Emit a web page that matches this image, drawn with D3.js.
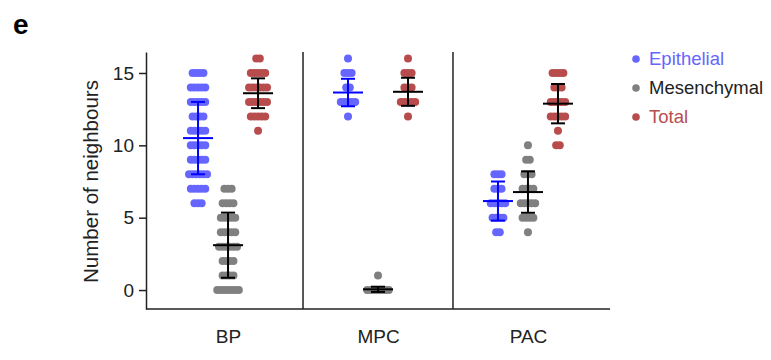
<!DOCTYPE html>
<html>
<head>
<meta charset="utf-8">
<script src="https://cdn.jsdelivr.net/npm/d3@7"></script>
<style>
  body { margin: 0; background: #fff; }
  text { font-family: "Liberation Sans", Arial, Helvetica, sans-serif; }
</style>
</head>
<body>
<svg id="chart" width="771" height="360"></svg>
<script>
// Regions and cell types
const categories = ["BP", "MPC", "PAC"];
const cellTypes = ["Epithelial", "Mesenchymal", "Total"];
const yTicks = [0, 5, 10, 15];

// Number of neighbours per cell, one list per region
const epithelialBP = [15,15,15,15, 14,14,14,14,14, 13,13,13,13,13, 12,12,12,12,
  11,11,11,11,11, 10,10,10,10,10, 9,9,9,9,9, 8,8,8,8,8,8, 7,7,7,7,7, 6,6,6];
const mesenchymalBP = [7,7,7, 6,6,6,6, 5,5,5,5,5, 4,4,4,4,4, 3,3,3,3,3,3,
  2,2,2,2, 1,1,1,1, 0,0,0,0,0,0,0];
const totalBP = [16,16, 15,15,15,15,15, 14,14,14,14,14,14, 13,13,13,13,13,13,
  12,12,12,12,12, 11];

const epithelialMPC = [16, 15,15,15, 14,14, 13,13,13,13,13, 12];
const mesenchymalMPC = [1, 0,0,0,0,0,0,0];
const totalMPC = [16, 15,15,15, 14,14,14, 13,13,13,13,13, 12];

const epithelialPAC = [8,8,8, 7,7,7, 6,6,6,6,6, 5,5,5,5, 4,4];
const mesenchymalPAC = [10, 9,9, 8,8,8, 7,7,7,7, 6,6,6,6,6, 5,5,5,5, 4];
const totalPAC = [15,15,15,15, 14,14,14, 13,13,13,13,13, 12,12,12,12,12, 11, 10,10];

// Mean and standard deviation per region
const epithelialMean = [10.5, 13.65, 6.15];
const epithelialSD = [2.5, 0.95, 1.35];
const mesenchymalMean = [3.1, 0.05, 6.77];
const mesenchymalSD = [2.25, 0.18, 1.43];
const totalMean = [13.6, 13.7, 12.88];
const totalSD = [1.03, 0.97, 1.36];

const dotColors = ["#6666ff", "#808080", "#b84c4c"];
const barColors = ["#0000ff", "#000000", "#000000"];
const legendTextColors = ["#6666ff", "#222222", "#b84c4c"];

const valuesByType = [
  [epithelialBP, epithelialMPC, epithelialPAC],
  [mesenchymalBP, mesenchymalMPC, mesenchymalPAC],
  [totalBP, totalMPC, totalPAC]
];
const meanByType = [epithelialMean, mesenchymalMean, totalMean];
const sdByType = [epithelialSD, mesenchymalSD, totalSD];

const svg = d3.select("#chart");
const plotLeft = 146, plotRight = 610, plotTop = 52, plotBottom = 309;

const x = d3.scalePoint().domain(categories).range([plotLeft, plotRight]).padding(0.547);
const xSub = d3.scalePoint().domain(cellTypes).range([-30, 30]);
const y = d3.scaleLinear().domain([-1.31, 16.45]).range([plotBottom, plotTop]);

const axisColor = "#222";

// Panel dividers between regions
const step = x.step();
svg.append("g").selectAll("line")
  .data(categories.slice(1))
  .join("line")
  .attr("x1", d => x(d) - step / 2).attr("x2", d => x(d) - step / 2)
  .attr("y1", plotTop).attr("y2", plotBottom)
  .attr("stroke", axisColor).attr("stroke-width", 1.5);

// Y axis
const yAxis = svg.append("g")
  .attr("transform", `translate(${plotLeft},0)`)
  .call(d3.axisLeft(y).tickValues(yTicks).tickSize(7).tickPadding(5).tickSizeOuter(0));
yAxis.select(".domain").attr("stroke", axisColor).attr("stroke-width", 1.5);
yAxis.selectAll(".tick line").attr("stroke", axisColor).attr("stroke-width", 1.5);
yAxis.selectAll(".tick text").attr("fill", axisColor).style("font-size", "19px");

// X axis
const xAxis = svg.append("g")
  .attr("transform", `translate(0,${plotBottom})`)
  .call(d3.axisBottom(x).tickSize(0).tickPadding(21).tickSizeOuter(0));
xAxis.select(".domain").attr("stroke", axisColor).attr("stroke-width", 1.5)
  .attr("d", `M${plotLeft},0H${plotRight}`);
xAxis.selectAll(".tick text").attr("fill", axisColor).style("font-size", "19px");

// Y axis title
svg.append("text")
  .attr("transform", `translate(98,${y(7.5)}) rotate(-90)`)
  .attr("text-anchor", "middle")
  .attr("fill", axisColor)
  .style("font-size", "20.5px")
  .text("Number of neighbours");

// Panel letter
svg.append("text")
  .attr("x", 13).attr("y", 34)
  .style("font-size", "28px").style("font-weight", "bold")
  .attr("fill", "#000")
  .text("e");

// Dots: cells sharing a value are laid out side by side around the group centre
const spacing = 3.6;
cellTypes.forEach((type, t) => {
  categories.forEach((cat, c) => {
    const values = valuesByType[t][c];
    const rows = d3.group(values, v => v);
    const pts = [];
    for (const [v, list] of rows) {
      list.forEach((_, i) => pts.push({ v, off: (i - (list.length - 1) / 2) * spacing }));
    }
    svg.append("g").selectAll("circle")
      .data(pts)
      .join("circle")
      .attr("cx", d => x(cat) + xSub(type) + d.off)
      .attr("cy", d => y(d.v))
      .attr("r", 4)
      .attr("fill", dotColors[t]);
  });
});

// Mean and SD bars
cellTypes.forEach((type, t) => {
  categories.forEach((cat, c) => {
    const cx = x(cat) + xSub(type);
    const m = meanByType[t][c], s = sdByType[t][c];
    const g = svg.append("g").attr("stroke", barColors[t]).attr("stroke-width", 2);
    g.append("line").attr("x1", cx - 15).attr("x2", cx + 15).attr("y1", y(m)).attr("y2", y(m));
    g.append("line").attr("x1", cx).attr("x2", cx).attr("y1", y(m - s)).attr("y2", y(m + s));
    g.append("line").attr("x1", cx - 7).attr("x2", cx + 7).attr("y1", y(m + s)).attr("y2", y(m + s));
    g.append("line").attr("x1", cx - 7).attr("x2", cx + 7).attr("y1", y(m - s)).attr("y2", y(m - s));
  });
});

// Legend
const legend = svg.append("g").attr("transform", "translate(636,59)");
const items = legend.selectAll("g").data(cellTypes).join("g")
  .attr("transform", (d, i) => `translate(0,${i * 29})`);
items.append("circle").attr("r", 3.8).attr("fill", (d, i) => dotColors[i]);
items.append("text").attr("x", 13).attr("dy", "0.35em")
  .style("font-size", "18.5px")
  .attr("fill", (d, i) => legendTextColors[i])
  .text(d => d);
</script>
</body>
</html>
